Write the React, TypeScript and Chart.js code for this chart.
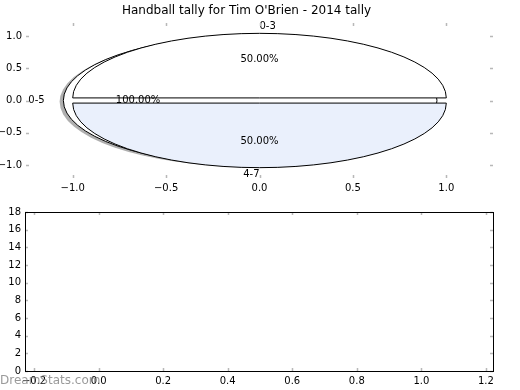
import React, { useEffect, useRef } from "react";
import { Chart, registerables } from "chart.js";

Chart.register(...registerables);

const titleText = "Handball tally for Tim O'Brien - 2014 tally";

// Pie drawn first (single wedge, with shadow)
const ringLabels = ["0-5"];
const ringValues = [1];
const ringColors = ["#ffffff"];
const ringExplode = [0.05];

// Pie drawn on top
const sliceLabels = ["0-3", "4-7"];
const sliceValues = [1, 1];
const sliceColors = ["#ffffff", "#eaf0fc"];
const sliceExplode = [0.04, 0.04];

const pieXTicks = [-1.0, -0.5, 0.0, 0.5, 1.0];
const pieYTicks = [-1.0, -0.5, 0.0, 0.5, 1.0];

const barXTicks = [-0.2, 0.0, 0.2, 0.4, 0.6, 0.8, 1.0, 1.2];
const barYTicks = [0, 2, 4, 6, 8, 10, 12, 14, 16, 18];

const watermark = "DreamStats.com";

const FONT = "'DejaVu Sans', 'Liberation Sans', sans-serif";
const tickFont = { family: FONT, size: 10 };

const fmt1 = (v: number) => {
  const s = Number(v).toFixed(1);
  return s.startsWith("-") ? "\u2212" + s.slice(1) : s;
};
const fmt0 = (v: number) => String(Math.round(Number(v)));

const insideTicks = (frame: boolean) => ({
  id: "insideTicks" + (frame ? "F" : "N"),
  afterDraw(chart: any) {
    const { ctx, chartArea } = chart;
    const { left, right, top, bottom } = chartArea;
    const xs = chart.scales.x;
    const ys = chart.scales.y;
    ctx.save();
    ctx.strokeStyle = "#b8b8b8";
    ctx.lineWidth = 1.5;
    const len = 3;
    ctx.beginPath();
    for (const t of xs.ticks) {
      const p = Math.round(xs.getPixelForValue(t.value)) + 0.5;
      ctx.moveTo(p, top);
      ctx.lineTo(p, top + len);
      ctx.moveTo(p, bottom);
      ctx.lineTo(p, bottom - len);
    }
    for (const t of ys.ticks) {
      const p = Math.round(ys.getPixelForValue(t.value)) + 0.5;
      ctx.moveTo(left, p);
      ctx.lineTo(left + len, p);
      ctx.moveTo(right, p);
      ctx.lineTo(right - len, p);
    }
    ctx.stroke();
    if (frame) {
      ctx.strokeStyle = "#000";
      ctx.lineWidth = 1;
      ctx.strokeRect(Math.round(left) + 0.5, Math.round(top) + 0.5, Math.round(right - left), Math.round(bottom - top));
    }
    ctx.restore();
  },
});

function pieGeometry(values: number[], explode: number[]) {
  const total = values.reduce((a, b) => a + b, 0);
  let t1 = 0;
  return values.map((v, i) => {
    const frac = v / total;
    const t2 = t1 + frac * Math.PI * 2;
    const mid = (t1 + t2) / 2;
    const cx = explode[i] * Math.cos(mid);
    const cy = explode[i] * Math.sin(mid);
    const g = { frac, t1, t2, mid, cx, cy };
    t1 = t2;
    return g;
  });
}

function wedgePath(ctx: any, xs: any, ys: any, g: any, dx: number, dy: number) {
  const cx = xs.getPixelForValue(g.cx + dx);
  const cy = ys.getPixelForValue(g.cy + dy);
  const rx = xs.getPixelForValue(g.cx + dx + 1) - cx;
  const ry = cy - ys.getPixelForValue(g.cy + dy + 1);
  ctx.beginPath();
  if (g.frac >= 0.999999) {
    ctx.ellipse(cx, cy, rx, ry, 0, 0, Math.PI * 2);
  } else {
    ctx.moveTo(cx, cy);
    ctx.lineTo(cx + rx * Math.cos(g.t1), cy - ry * Math.sin(g.t1));
    ctx.ellipse(cx, cy, rx, ry, 0, -g.t1, -g.t2, true);
    ctx.closePath();
  }
}

const piePlugin = {
  id: "ellipsePie",
  afterDatasetsDraw(chart: any) {
    const { ctx } = chart;
    const xs = chart.scales.x;
    const ys = chart.scales.y;
    const pies = [
      { labels: ringLabels, values: ringValues, colors: ringColors, explode: ringExplode, shadow: true },
      { labels: sliceLabels, values: sliceValues, colors: sliceColors, explode: sliceExplode, shadow: false },
    ];
    ctx.save();
    ctx.beginPath();
    ctx.rect(chart.chartArea.left, chart.chartArea.top, chart.chartArea.right - chart.chartArea.left, chart.chartArea.bottom - chart.chartArea.top);
    ctx.clip();
    const texts: any[] = [];
    for (const pie of pies) {
      const geo = pieGeometry(pie.values, pie.explode);
      if (pie.shadow) {
        for (const g of geo) {
          wedgePath(ctx, xs, ys, g, -0.02, -0.02);
          ctx.fillStyle = "rgba(77,77,77,0.45)";
          ctx.fill();
        }
      }
      geo.forEach((g, i) => {
        wedgePath(ctx, xs, ys, g, 0, 0);
        ctx.fillStyle = pie.colors[i];
        ctx.fill();
        ctx.strokeStyle = "#000";
        ctx.lineWidth = 1;
        ctx.stroke();
        const c = Math.cos(g.mid);
        const s = Math.sin(g.mid);
        texts.push({
          text: pie.labels[i],
          x: g.cx + 1.1 * c,
          y: g.cy + 1.1 * s,
          align: c > 0 ? "left" : "right",
        });
        texts.push({
          text: (g.frac * 100).toFixed(2) + "%",
          x: g.cx + 0.6 * c,
          y: g.cy + 0.6 * s,
          align: "center",
        });
      });
    }
    ctx.restore();
    ctx.save();
    ctx.fillStyle = "#000";
    ctx.font = "10px " + FONT;
    ctx.textBaseline = "middle";
    for (const t of texts) {
      ctx.textAlign = t.align;
      ctx.fillText(t.text, xs.getPixelForValue(t.x), ys.getPixelForValue(t.y));
    }
    ctx.restore();
  },
};

const watermarkPlugin = {
  id: "watermark",
  afterDraw(chart: any) {
    const { ctx } = chart;
    ctx.save();
    ctx.fillStyle = "rgba(120,120,120,0.75)";
    ctx.font = "12px " + FONT;
    ctx.textAlign = "left";
    ctx.textBaseline = "middle";
    ctx.fillText(watermark, 0, chart.height - 11);
    ctx.restore();
  },
};

function PieChart() {
  const ref = useRef<HTMLCanvasElement>(null);
  useEffect(() => {
    const chart = new Chart(ref.current as HTMLCanvasElement, {
      type: "scatter",
      data: { datasets: [{ data: [] }] },
      options: {
        animation: false,
        responsive: false,
        layout: { padding: { left: 0, right: 27, top: 0, bottom: 0 } },
        plugins: {
          legend: { display: false },
          tooltip: { enabled: false },
          title: {
            display: true,
            text: titleText,
            color: "#000",
            font: { family: FONT, size: 12, weight: "normal" },
            padding: { top: 2, bottom: 4.6 },
          },
        },
        scales: {
          x: {
            type: "linear",
            min: -1.25,
            max: 1.25,
            afterBuildTicks: (s: any) => {
              s.ticks = pieXTicks.map((v) => ({ value: v }));
            },
            afterFit: (s: any) => {
              s.height = 24;
            },
            grid: { display: false, drawTicks: false },
            border: { display: false },
            ticks: { padding: 4, color: "#000", font: tickFont, autoSkip: false, maxRotation: 0, callback: (v: any) => fmt1(v) },
          },
          y: {
            type: "linear",
            min: -1.2,
            max: 1.2,
            afterBuildTicks: (s: any) => {
              s.ticks = pieYTicks.map((v) => ({ value: v }));
            },
            afterFit: (s: any) => {
              s.width = 26;
            },
            grid: { display: false, drawTicks: false },
            border: { display: false },
            ticks: { padding: 4, color: "#000", font: tickFont, autoSkip: false, callback: (v: any) => fmt1(v) },
          },
        },
      } as any,
      plugins: [piePlugin, insideTicks(false)],
    });
    return () => chart.destroy();
  }, []);
  return <canvas ref={ref} width={520} height={200} style={{ display: "block" }} />;
}

function EmptyChart() {
  const ref = useRef<HTMLCanvasElement>(null);
  useEffect(() => {
    const chart = new Chart(ref.current as HTMLCanvasElement, {
      type: "scatter",
      data: { datasets: [{ data: [] }] },
      options: {
        animation: false,
        responsive: false,
        layout: { padding: { left: 0, right: 27, top: 10, bottom: 0 } },
        plugins: { legend: { display: false }, tooltip: { enabled: false } },
        scales: {
          x: {
            type: "linear",
            min: -0.228,
            max: 1.222,
            afterBuildTicks: (s: any) => {
              s.ticks = barXTicks.map((v) => ({ value: v }));
            },
            afterFit: (s: any) => {
              s.height = 21;
            },
            grid: { display: false, drawTicks: false },
            border: { display: false },
            ticks: { padding: 4, color: "#000", font: tickFont, autoSkip: false, maxRotation: 0, callback: (v: any) => fmt1(v) },
          },
          y: {
            type: "linear",
            min: 0,
            max: 18,
            afterBuildTicks: (s: any) => {
              s.ticks = barYTicks.map((v) => ({ value: v }));
            },
            afterFit: (s: any) => {
              s.width = 25;
            },
            grid: { display: false, drawTicks: false },
            border: { display: false },
            ticks: { padding: 4, color: "#000", font: tickFont, autoSkip: false, callback: (v: any) => fmt0(v) },
          },
        },
      } as any,
      plugins: [insideTicks(true), watermarkPlugin],
    });
    return () => chart.destroy();
  }, []);
  return <canvas ref={ref} width={520} height={190} style={{ display: "block" }} />;
}

export default function App() {
  return (
    <div style={{ position: "fixed", left: 0, top: 2, width: 520, height: 390, background: "#fff" }}>
      <PieChart />
      <EmptyChart />
    </div>
  );
}
